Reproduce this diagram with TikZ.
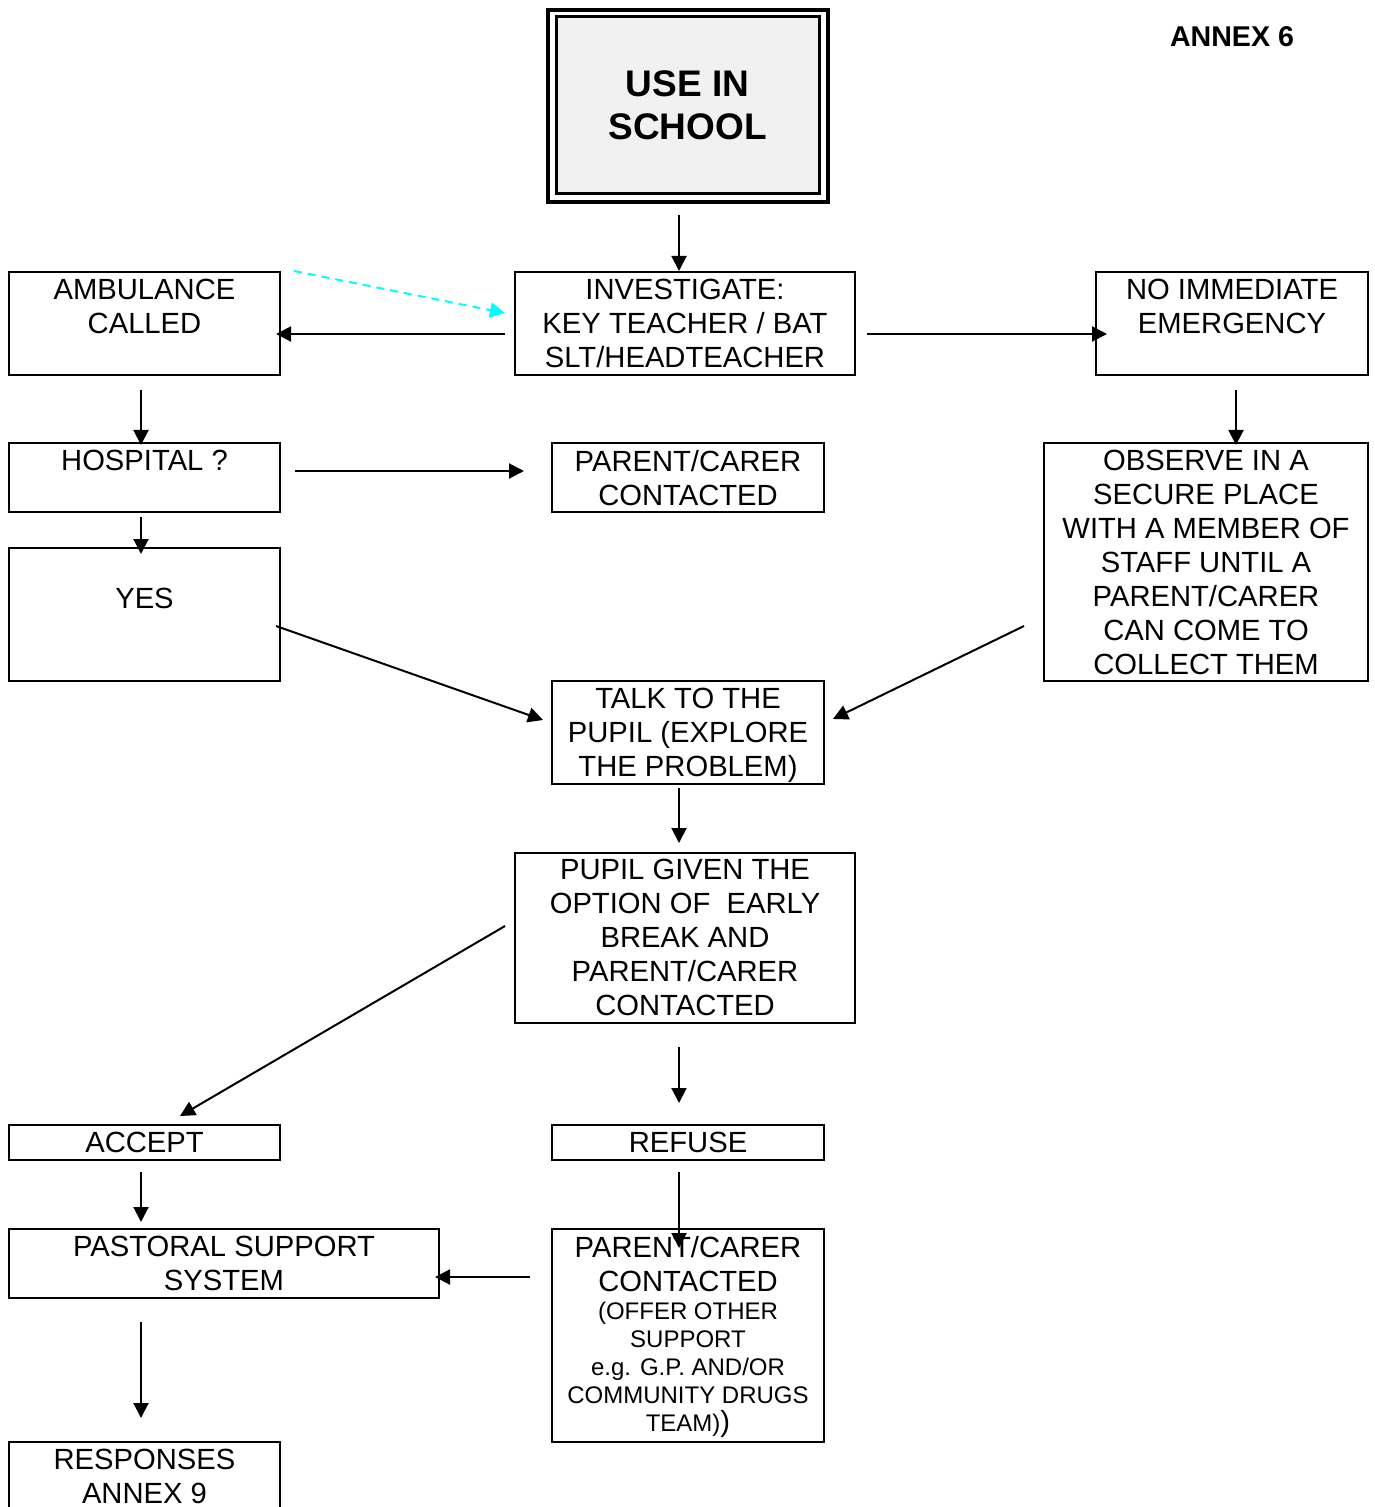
\documentclass[tikz,border=0pt]{standalone}
\usepackage{fontspec}
\setmainfont{Liberation Sans}
\usetikzlibrary{arrows.meta,calc,fit}
\definecolor{fillg}{RGB}{241,241,241}
\definecolor{brightcyan}{RGB}{0,255,255}
\newcommand\mkbox[6][]{%
  \coordinate (#2-nw) at (#3,#4);
  \coordinate (#2-se) at (#5,#6);
  \node[box,#1,fit=(#2-nw)(#2-se)] (#2) {};}
\begin{document}
\begin{tikzpicture}[x=0.5pt,y=-0.5pt,
  box/.style={draw, line width=1pt, inner sep=0pt, outer sep=0pt},
  txt/.style={anchor=north, align=center, inner sep=0pt, font=\fontsize{14.6}{17}\selectfont},
  small/.style={anchor=north, align=center, inner sep=0pt, font=\fontsize{12}{14}\selectfont},
  arr/.style={line width=1pt, -{Triangle[length=7.5pt,width=7.5pt]}},
  dasharr/.style={line width=1pt, brightcyan, dash pattern=on 4pt off 3pt, -{Triangle[length=7.5pt,width=7.5pt]}},
]
\useasboundingbox (0,0) rectangle (1374,1507);

% title box
\mkbox[line width=2pt]{sch}{548}{10}{828}{202}
\mkbox[line width=1.5pt,fill=fillg]{schin}{556}{17}{819}{194}
\node[align=center, inner sep=0pt, font=\fontsize{18.5}{21.5}\selectfont\bfseries] (scht) at (schin.center) {USE IN\\SCHOOL};
\node[anchor=base, inner sep=0pt, font=\fontsize{14.3}{17}\selectfont\bfseries] (annex) at (1232,47) {ANNEX 6};

% boxes
\mkbox{amb}{9}{272}{280}{375}
\mkbox{inv}{515}{272}{855}{375}
\mkbox{noe}{1096}{272}{1368}{375}
\mkbox{hos}{9}{443}{280}{512}
\mkbox{pc1}{552}{443}{824}{512}
\mkbox{obs}{1044}{443}{1368}{681}
\mkbox{yes}{9}{548}{280}{681}
\mkbox{talk}{552}{681}{824}{784}
\mkbox{pupil}{515}{853}{855}{1023}
\mkbox{acc}{9}{1125}{280}{1160}
\mkbox{ref}{552}{1125}{824}{1160}
\mkbox{past}{9}{1229}{439}{1298}
\mkbox{pc2}{552}{1229}{824}{1442}
\mkbox{resp}{9}{1442}{280}{1540}

% texts
\node[txt] (ambt) at ($(amb.north)+(0,7)$) {AMBULANCE\\CALLED};
\node[txt] (invt) at ($(inv.north)+(0,7)$) {INVESTIGATE:\\KEY TEACHER / BAT\\SLT/HEADTEACHER};
\node[txt] (noet) at ($(noe.north)+(0,7)$) {NO IMMEDIATE\\EMERGENCY};
\node[txt] (host) at ($(hos.north)+(0,7)$) {HOSPITAL ?};
\node[txt] (pc1t) at ($(pc1.north)+(0,7)$) {PARENT/CARER\\CONTACTED};
\node[txt] (obst) at ($(obs.north)+(0,7)$) {OBSERVE IN A\\SECURE PLACE\\WITH A MEMBER OF\\STAFF UNTIL A\\PARENT/CARER\\CAN COME TO\\COLLECT THEM};
\node[txt] (yest) at ($(yes.north)+(0,40)$) {YES};
\node[txt] (talkt) at ($(talk.north)+(0,7)$) {TALK TO THE\\PUPIL (EXPLORE\\THE PROBLEM)};
\node[txt] (pupilt) at ($(pupil.north)+(0,6)$) {PUPIL GIVEN THE\\OPTION OF\ \ EARLY\\BREAK AND\\PARENT/CARER\\CONTACTED};
\node[txt] (acct) at ($(acc.north)+(0,6.5)$) {ACCEPT};
\node[txt] (reft) at ($(ref.north)+(0,6.5)$) {REFUSE};
\node[txt] (pastt) at ($(past.north)+(0,7)$) {PASTORAL SUPPORT\\SYSTEM};
\node[txt] (pc2t) at ($(pc2.north)+(0,7)$) {PARENT/CARER\\CONTACTED};
\node[small] (pc2s) at ($(pc2.north)+(0,73)$) {(OFFER OTHER\\SUPPORT\\e.g. G.P. AND/OR\\COMMUNITY DRUGS\\TEAM){\fontsize{14.6}{17}\selectfont)}};
\node[txt] (respt) at ($(resp.north)+(0,7)$) {RESPONSES\\ANNEX 9};

% connectors
\draw[arr] (679,215) -- (679,271);
\draw[arr] (505,334) -- (276,334);
\draw[arr] (867,334) -- (1107,334);
\draw[dasharr] (294,271) -- (505,313);
\draw[arr] (141,390) -- (141,445);
\draw[arr] (295,471) -- (524,471);
\draw[arr] (1236,390) -- (1236,445);
\draw[arr] (141,517) -- (141,554);
\draw[arr] (276,626) -- (543,720);
\draw[arr] (1024,626) -- (833,719);
\draw[arr] (679,788) -- (679,843);
\draw[arr] (505,926) -- (180,1116);
\draw[arr] (679,1047) -- (679,1103);
\draw[arr] (141,1172) -- (141,1222);
\draw[arr] (679,1172) -- (679,1248);
\draw[arr] (530,1277) -- (435,1277);
\draw[arr] (141,1322) -- (141,1418);
\end{tikzpicture}
\end{document}
